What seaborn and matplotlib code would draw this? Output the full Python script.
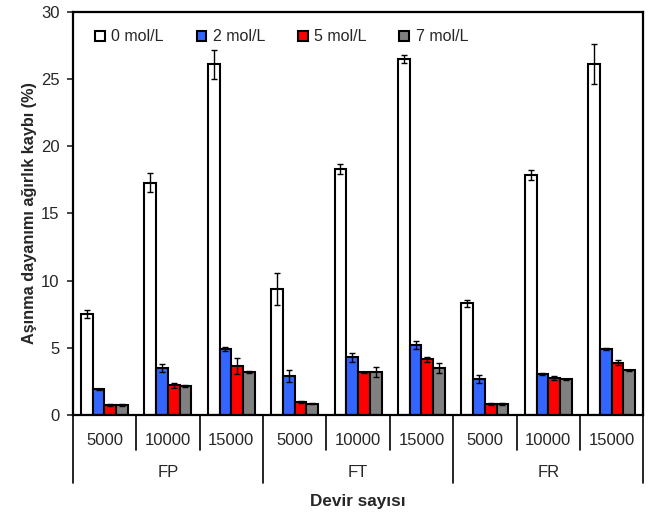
import numpy as np
import pandas as pd
import matplotlib
matplotlib.use("Agg")
import matplotlib.pyplot as plt
import seaborn as sns
from matplotlib.lines import Line2D
import matplotlib.transforms as mtransforms

# ---- data ----
groups = ["FP", "FT", "FR"]
cycles = ["5000", "10000", "15000"]
series = ["0 mol/L", "2 mol/L", "5 mol/L", "7 mol/L"]
colors = ["#FFFFFF", "#3366FF", "#FF0000", "#808080"]

# values per (group, cycle) in order FP5000, FP10000, FP15000, FT..., FR...
v0 = [7.5, 17.3, 26.1, 9.35, 18.3, 26.5, 8.3, 17.85, 26.15]
v2 = [1.9, 3.5, 4.9, 2.9, 4.3, 5.2, 2.7, 3.05, 4.93]
v5 = [0.75, 2.2, 3.65, 0.97, 3.17, 4.15, 0.82, 2.75, 3.9]
v7 = [0.75, 2.15, 3.2, 0.84, 3.2, 3.5, 0.82, 2.65, 3.33]
e0 = [0.3, 0.7, 1.1, 1.2, 0.35, 0.3, 0.25, 0.35, 1.5]
e2 = [0.05, 0.3, 0.15, 0.45, 0.35, 0.3, 0.3, 0.1, 0.08]
e5 = [0.05, 0.2, 0.6, 0.07, 0.05, 0.2, 0.05, 0.12, 0.2]
e7 = [0.05, 0.05, 0.1, 0.05, 0.35, 0.35, 0.05, 0.05, 0.05]

values = [v0, v2, v5, v7]
errors = [e0, e2, e5, e7]

cats = [f"{g}\n{c}" for g in groups for c in cycles]
rows = []
for s, vals, errs in zip(series, values, errors):
    for cat, v, e in zip(cats, vals, errs):
        rows.append({"cat": cat, "series": s, "value": v, "err": e})
df = pd.DataFrame(rows)

# ---- plot ----
sns.set_style("white")
plt.rcParams["font.family"] = ["Liberation Sans", "DejaVu Sans"]

fig = plt.figure(figsize=(6.51, 5.12), dpi=100)
ax = fig.add_axes([0.1117, 0.1895, 0.8766, 0.7871])

sns.barplot(data=df, x="cat", y="value", hue="series", order=cats,
            hue_order=series, palette=colors, width=0.74, errorbar=None,
            edgecolor="black", linewidth=1.5, ax=ax, saturation=1)

# error bars from the drawn bars
bars = [p for p in ax.patches if p.get_height() > 0][:len(df)]
k = 0
for si, s in enumerate(series):
    for ci in range(len(cats)):
        p = bars[k]
        k += 1
        x = p.get_x() + p.get_width() / 2
        y = p.get_height()
        ax.errorbar(x, y, yerr=errors[si][ci], color="black", lw=1.0,
                    capsize=2.5, capthick=1.0, zorder=5)

ax.set_ylim(0, 30)
ax.set_xlim(-0.5, len(cats) - 0.5)
ax.set_yticks(np.arange(0, 31, 5))
ax.tick_params(axis="y", direction="out", length=4, width=1.2, pad=5.5,
               labelsize=12, left=True)
ax.tick_params(axis="x", bottom=False, labelbottom=False)
for sp in ax.spines.values():
    sp.set_linewidth(1.6)
    sp.set_color("black")

ax.set_ylabel("Aşınma dayanımı ağırlık kaybı (%)", fontsize=11.7,
              fontweight="bold")
ax.yaxis.label.set_va("center")
ax.yaxis.set_label_coords(-0.075, 0.5)
ax.set_xlabel("Devir sayısı", fontsize=12.3, fontweight="bold")
ax.xaxis.label.set_va("center")
ax.xaxis.set_label_coords(0.5, -0.215)

# hierarchical x axis
trans = mtransforms.blended_transform_factory(ax.transData, ax.transAxes)
for i in range(len(cats) + 1):
    x = i - 0.5
    depth = -0.168 if i % 3 == 0 else -0.087
    ax.add_line(Line2D([x, x], [0, depth], transform=trans, color="black",
                       lw=1.2, clip_on=False))
for i, cat in enumerate(cats):
    ax.text(i, -0.064, cycles[i % 3], transform=trans, ha="center",
            va="center", fontsize=12)
for gi, g in enumerate(groups):
    ax.text(gi * 3 + 1, -0.143, g, transform=trans, ha="center",
            va="center", fontsize=12)

leg = ax.legend(loc="upper left", bbox_to_anchor=(0.039, 0.957), ncol=4,
                frameon=False, fontsize=11.5, handlelength=0.62,
                handleheight=0.62, handletextpad=0.4, columnspacing=2.05,
                borderaxespad=0, borderpad=0)
for h in leg.legend_handles:
    h.set_edgecolor("black")
    h.set_linewidth(1.5)

fig.savefig("out.png", dpi=100)
